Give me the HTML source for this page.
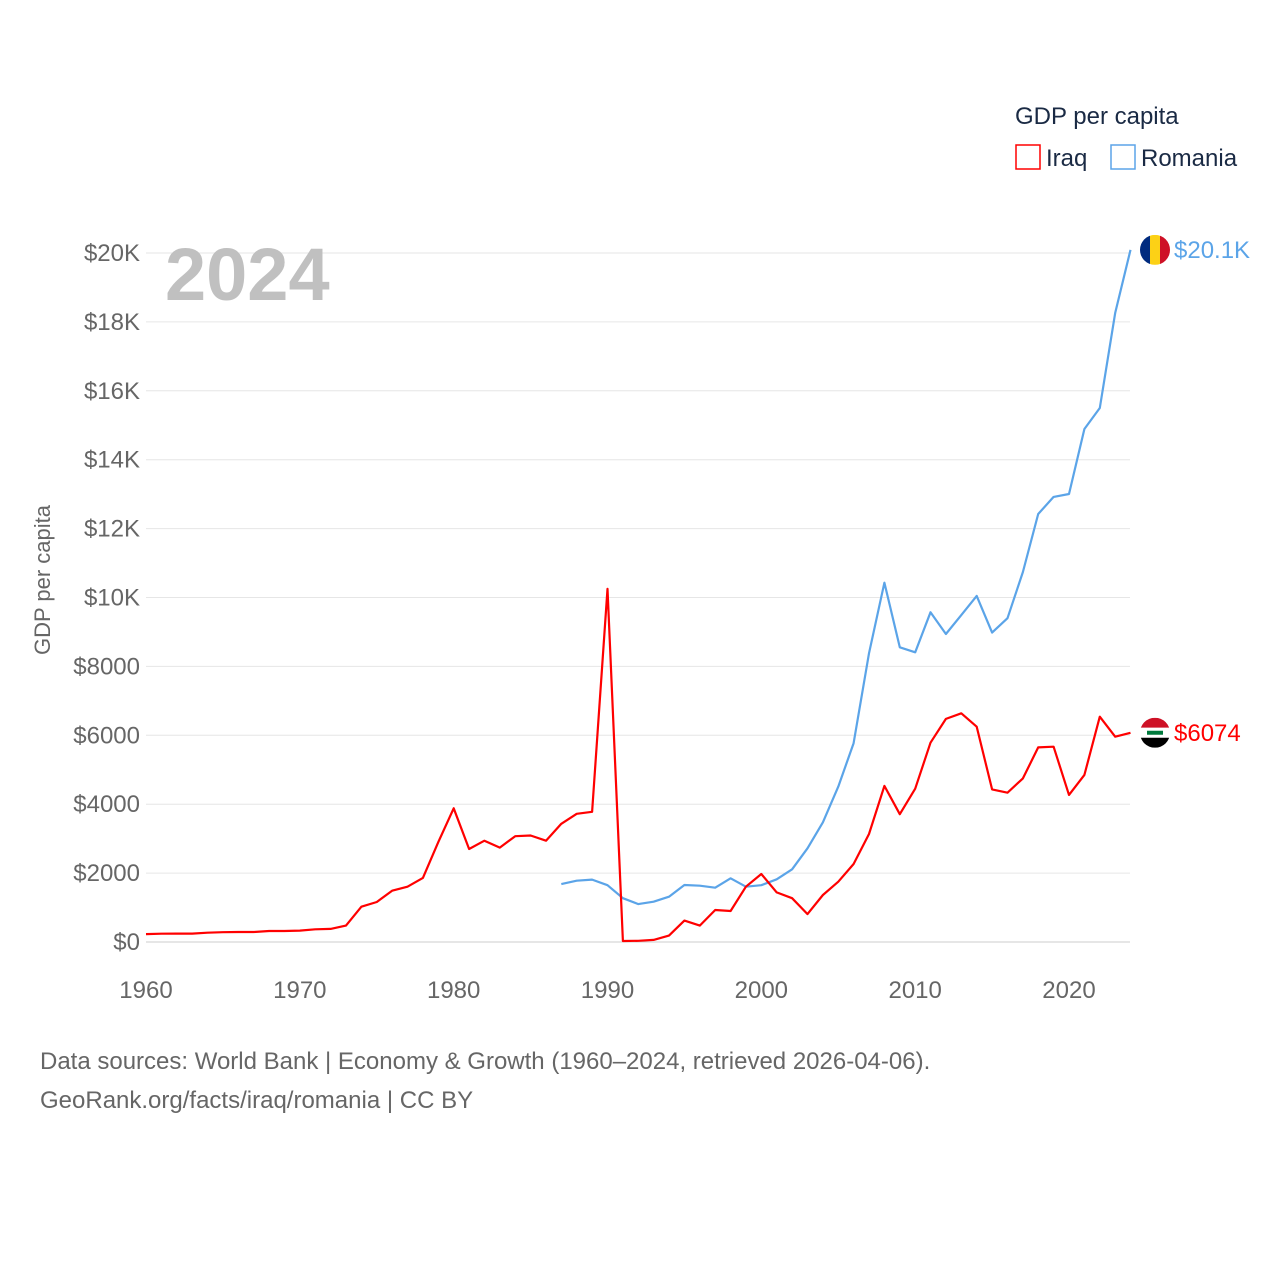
<!DOCTYPE html>
<html><head><meta charset="utf-8"><style>
body{margin:0;background:#fff;font-family:"Liberation Sans",sans-serif;}
svg{display:block}
</style></head><body>
<svg id="chart" width="1280" height="1280" viewBox="0 0 1280 1280">
<g id="grid"></g>
<g id="yticks"></g>
<g id="xticks"></g>
<text x="165" y="300" font-size="74" font-weight="bold" fill="#c0c0c0">2024</text>
<text transform="translate(50,580) rotate(-90)" text-anchor="middle" font-size="22" fill="#666">GDP per capita</text>
<g id="series"></g>
<g>
<text x="1015" y="124" font-size="24" fill="#1a2a44">GDP per capita</text>
<g><rect x="1016" y="145" width="24" height="24" fill="none" stroke="#ff0000" stroke-width="1.5"/><text x="1046" y="166" font-size="24" fill="#1a2a44">Iraq</text></g>
<g><rect x="1111" y="145" width="24" height="24" fill="none" stroke="#5ba4e8" stroke-width="1.5"/><text x="1141" y="166" font-size="24" fill="#1a2a44">Romania</text></g>
</g>
<text x="40" y="1069" font-size="24" fill="#666">Data sources: World Bank | Economy &amp; Growth (1960–2024, retrieved 2026-04-06).</text>
<text x="40" y="1108" font-size="24" fill="#666">GeoRank.org/facts/iraq/romania | CC BY</text>
</svg>
<script>
const iraqYears=[];for(let y=1960;y<=2024;y++)iraqYears.push(y);
const iraqValues=[230,240,245,245,270,285,290,290,320,320,330,370,380,475,1025,1160,1490,1605,1860,2900,3880,2700,2940,2740,3070,3090,2940,3430,3720,3780,10250,30,35,60,185,620,475,930,900,1605,1975,1440,1270,810,1365,1750,2265,3135,4530,3710,4450,5785,6475,6640,6250,4430,4335,4750,5650,5670,4270,4850,6540,5960,6074];
const romaniaYears=[];for(let y=1987;y<=2024;y++)romaniaYears.push(y);
const romaniaValues=[1680,1780,1810,1650,1270,1100,1170,1315,1655,1635,1575,1850,1605,1650,1820,2110,2720,3475,4510,5770,8380,10430,8555,8410,9570,8940,9490,10045,8980,9400,10740,12425,12920,13005,14890,15500,18260,20090];
const yTicks=[0,2000,4000,6000,8000,10000,12000,14000,16000,18000,20000];
const yTickLabels=["$0","$2000","$4000","$6000","$8000","$10K","$12K","$14K","$16K","$18K","$20K"];
const xTicks=[1960,1970,1980,1990,2000,2010,2020];
const NS="http://www.w3.org/2000/svg";
const X=y=>146+(y-1960)*(923/60);
const Y=v=>942-v*(689/20000);
function mk(t,a,p){const e=document.createElementNS(NS,t);for(const k in a)e.setAttribute(k,a[k]);p.appendChild(e);return e;}
const grid=document.getElementById('grid'),yt=document.getElementById('yticks'),xt=document.getElementById('xticks'),ser=document.getElementById('series');
yTicks.forEach((v,i)=>{
 const l=mk('line',{x1:146,x2:1130,y1:Y(v),y2:Y(v),stroke:i==0?'#ccc':'#e6e6e6','stroke-width':1},grid);
 
 
 const t=mk('text',{x:140,y:Y(v)+8,'text-anchor':'end','font-size':24,fill:'#666'},yt);t.textContent=yTickLabels[i];
 
 
});
xTicks.forEach(v=>{
 const t=mk('text',{x:X(v),y:998,'text-anchor':'middle','font-size':24,fill:'#666'},xt);t.textContent=v;
 
 
});
function line(ys,vs,c,name){
 const p=mk('path',{d:vs.map((v,i)=>(i?'L':'M')+X(ys[i]).toFixed(1)+','+Y(v).toFixed(1)).join(''),fill:'none',stroke:c,'stroke-width':2.2,'stroke-linejoin':'round'},ser);
 
 
}
line(romaniaYears,romaniaValues,'#5ba4e8','romania-line');
line(iraqYears,iraqValues,'#ff0000','iraq-line');
// end markers
const rv=romaniaValues[romaniaValues.length-1],iv=iraqValues[iraqValues.length-1];
const fx=1155;
const ry=Y(rv),iy=Y(iv);
const defs=mk('defs',{},ser);
const c1=mk('clipPath',{id:'cr'},defs);mk('circle',{cx:fx,cy:ry,r:15},c1);
const c2=mk('clipPath',{id:'ci'},defs);mk('circle',{cx:fx,cy:iy,r:15},c2);
const rf=mk('g',{'clip-path':'url(#cr)'},ser);


mk('rect',{x:fx-15,y:ry-15,width:10,height:30,fill:'#002b7f'},rf);
mk('rect',{x:fx-5,y:ry-15,width:10,height:30,fill:'#fcd116'},rf);
mk('rect',{x:fx+5,y:ry-15,width:10,height:30,fill:'#ce1126'},rf);
const ifl=mk('g',{'clip-path':'url(#ci)'},ser);


mk('rect',{x:fx-15,y:iy-15,width:30,height:10,fill:'#ce1126'},ifl);
mk('rect',{x:fx-15,y:iy-5,width:30,height:10,fill:'#fff'},ifl);
mk('rect',{x:fx-15,y:iy+5,width:30,height:10,fill:'#000'},ifl);
mk('rect',{x:fx-8,y:iy-2,width:16,height:4,fill:'#007a3d'},ifl);
const rl=mk('text',{x:1174,y:ry+8,'font-size':24,fill:'#5ba4e8'},ser);rl.textContent='$'+(rv/1000).toFixed(1)+'K';


const il=mk('text',{x:1174,y:iy+8,'font-size':24,fill:'#ff0000'},ser);il.textContent='$'+iv;


</script>
</body></html>
